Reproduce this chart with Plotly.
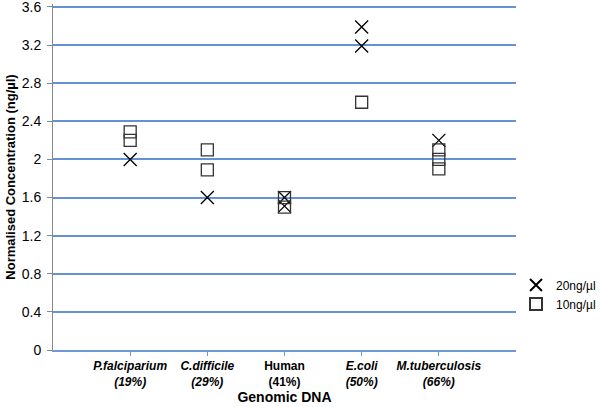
import plotly.graph_objects as go

categories = ["P.falciparium (19%)", "C.difficile (29%)", "Human (41%)", "E.coli (50%)", "M.tuberculosis (66%)"]
tick_labels = ["<b><i>P.falciparium<br>(19%)</i></b>", "<b><i>C.difficile<br>(29%)</i></b>",
               "<b>Human<br>(41%)</b>", "<b><i>E.coli<br>(50%)</i></b>", "<b><i>M.tuberculosis<br>(66%)</i></b>"]
cat_pos = [1, 2, 3, 4, 5]

# 20 ng/µl series (x markers)
s20_cat = [1, 2, 3, 3, 4, 4, 5]
s20_val = [2.0, 1.6, 1.6, 1.51, 3.39, 3.19, 2.2]
# 10 ng/µl series (square markers)
s10_cat = [1, 1, 2, 2, 3, 3, 4, 5, 5, 5]
s10_val = [2.29, 2.2, 2.1, 1.89, 1.6, 1.5, 2.6, 2.1, 2.0, 1.9]

y_ticks = [0, 0.4, 0.8, 1.2, 1.6, 2.0, 2.4, 2.8, 3.2, 3.6]
y_tick_text = ["0", "0.4", "0.8", "1.2", "1.6", "2", "2.4", "2.8", "3.2", "3.6"]

fig = go.Figure()
fig.add_trace(go.Scatter(x=s20_cat, y=s20_val, mode="markers", name="20ng/µl",
                         marker=dict(symbol="x-thin-open", size=13, color="black",
                                     line=dict(color="black", width=1.3))))
fig.add_trace(go.Scatter(x=s10_cat, y=s10_val, mode="markers", name="10ng/µl",
                         marker=dict(symbol="square-open", size=12, color="#333333",
                                     line=dict(color="#333333", width=1.3))))

fig.update_layout(
    width=600, height=407,
    margin=dict(l=53, r=84, t=4, b=57, autoexpand=False),
    paper_bgcolor="white", plot_bgcolor="white",
    font=dict(family="Liberation Sans, Arial, sans-serif", color="black"),
    showlegend=True,
    legend=dict(x=1.0, y=0.23, xanchor="left", yanchor="top",
                font=dict(size=12), bgcolor="rgba(0,0,0,0)",
                tracegroupgap=0, itemsizing="constant"),
)
fig.update_xaxes(
    range=[0, 6], tickvals=cat_pos, ticktext=tick_labels,
    showgrid=False, zeroline=False,
    showline=True, linecolor="#6f98d4", linewidth=2,
    ticks="outside", ticklen=4, tickcolor="#6f98d4",
    tickfont=dict(size=12),
    title=dict(text="<b>Genomic DNA</b>", font=dict(size=14), standoff=2),
)
fig.update_yaxes(
    range=[0, 3.6314], tickvals=y_ticks, ticktext=y_tick_text,
    showgrid=True, gridcolor="#6592d4", gridwidth=1.5,
    zeroline=False,
    showline=True, linecolor="#888888", linewidth=1,
    ticks="outside", ticklen=5, tickcolor="#888888",
    tickfont=dict(size=14), ticklabeloverflow="allow", ticklabelstandoff=3,
    title=dict(text="<b>Normalised Concentration (ng/µl)</b>", font=dict(size=13), standoff=3),
)

fig.write_html("out.html", config={"displayModeBar": False},
               post_script="document.body.style.margin='0';document.body.style.padding='0';")
